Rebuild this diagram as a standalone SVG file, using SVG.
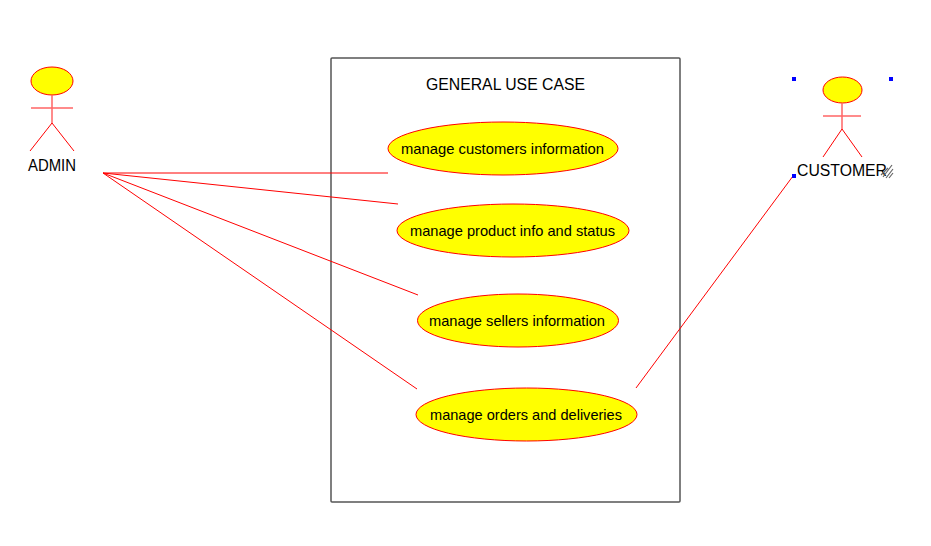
<svg xmlns="http://www.w3.org/2000/svg" width="931" height="546" viewBox="0 0 931 546">
<style>
text{font-family:"Liberation Sans",Arial,sans-serif;font-size:14.8px;fill:#000;text-anchor:middle}
.t{font-size:15.8px}
.e{fill:#ff0;stroke:#f00;stroke-width:1}
.l{stroke:#f00;stroke-width:1;fill:none}
.b{stroke:#f66;stroke-width:1.500;fill:none}
.h{fill:#00f}
.g{stroke:#666;stroke-width:1.200;fill:none}
</style>
<rect width="931" height="546" fill="#fff"/>
<g id="system"><rect x="331" y="58" width="349" height="444" rx="1" fill="#fff" stroke="#555" stroke-width="1.500"/><text class="t" x="505.500" y="89.500" textLength="159" lengthAdjust="spacingAndGlyphs">GENERAL USE CASE</text></g>
<g id="connectors">
<path class="l" d="M103 173H388M103 173L398 204M103 173L418 295M103 173L417 389M636 388L793 176"/>
</g>
<g id="admin"><ellipse class="e" cx="52" cy="81" rx="21" ry="14"/><path class="b" d="M52 95V123M31 108H73"/><path class="l" d="M52 123L30 151M52 123L74 151"/><text class="t" x="52" y="170.500" textLength="48" lengthAdjust="spacingAndGlyphs">ADMIN</text></g>
<g id="customer"><ellipse class="e" cx="842.500" cy="90" rx="19.500" ry="13"/><path class="b" d="M842 103V129M823 116H861"/><path class="l" d="M842 129L823 157M842 129L862 157"/><text class="t" x="842" y="175.500" textLength="90" lengthAdjust="spacingAndGlyphs">CUSTOMER</text>
<path class="g" d="M881 175L888 168M883 177L892 165M886 178L893 169M889 178L893 173"/>
<rect class="h" x="792" y="77" width="4" height="4"/><rect class="h" x="889" y="77" width="4" height="4"/><rect class="h" x="792" y="174" width="4" height="4"/></g>
<g id="uc1"><ellipse class="e" cx="503" cy="148.500" rx="115" ry="26.500"/><text x="502.500" y="154" textLength="203" lengthAdjust="spacingAndGlyphs">manage customers information</text></g>
<g id="uc2"><ellipse class="e" cx="513" cy="230.500" rx="116" ry="26.500"/><text x="512.500" y="236" textLength="205" lengthAdjust="spacingAndGlyphs">manage product info and status</text></g>
<g id="uc3"><ellipse class="e" cx="518" cy="320.500" rx="100.500" ry="26.500"/><text x="517" y="326" textLength="176" lengthAdjust="spacingAndGlyphs">manage sellers information</text></g>
<g id="uc4"><ellipse class="e" cx="526.500" cy="414.500" rx="110.500" ry="26.500"/><text x="526" y="420" textLength="192" lengthAdjust="spacingAndGlyphs">manage orders and deliveries</text></g>
</svg>
